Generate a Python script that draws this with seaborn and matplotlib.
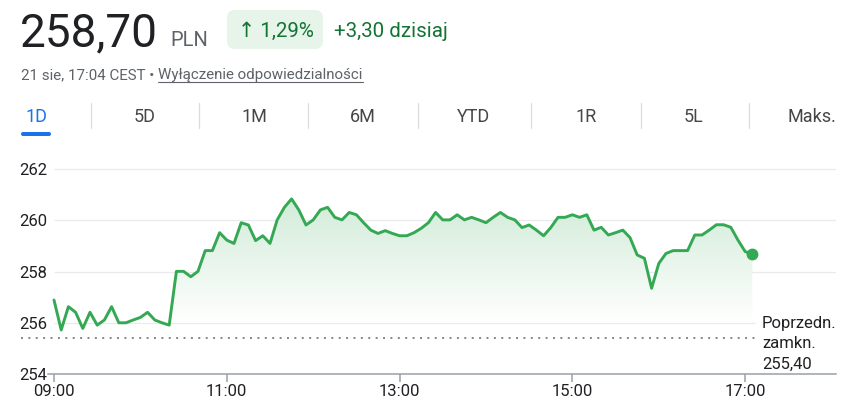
import numpy as np
import pandas as pd
import matplotlib
matplotlib.use("Agg")
import matplotlib.pyplot as plt
import seaborn as sns
from matplotlib.patches import FancyBboxPatch
from matplotlib.colors import to_rgb

# ---------------- data ----------------
price = [
    256.89, 255.72, 256.63, 256.41, 255.78, 256.41, 255.91, 256.11, 256.63, 256.00,
    256.00, 256.11, 256.21, 256.41, 256.11, 256.00, 255.91, 258.01, 258.01, 257.80,
    258.01, 258.82, 258.82, 259.52, 259.23, 259.10, 259.91, 259.82, 259.21, 259.40,
    259.10, 260.02, 260.51, 260.84, 260.41, 259.82, 260.02, 260.41, 260.51, 260.12,
    260.02, 260.31, 260.22, 259.91, 259.62, 259.49, 259.60, 259.49, 259.40, 259.40,
    259.52, 259.69, 259.91, 260.31, 260.02, 260.02, 260.22, 260.02, 260.12, 260.02,
    259.91, 260.12, 260.31, 260.12, 260.02, 259.72, 259.82, 259.62, 259.40, 259.72,
    260.12, 260.12, 260.22, 260.12, 260.22, 259.62, 259.73, 259.43, 259.52, 259.62,
    259.33, 258.65, 258.52, 257.35, 258.32, 258.71, 258.82, 258.82, 258.82, 259.43,
    259.43, 259.62, 259.83, 259.83, 259.73, 259.23, 258.78, 258.70,
]
step_minutes = 5                      # sampling interval from 09:00
minutes = np.arange(len(price)) * step_minutes
prev_close = 255.40
prev_close_label = ["Poprzedn.", "zamkn.", "255,40"]
last_price_label = "258,70"
currency = "PLN"
change_pct = "\u2191 1,29%"
change_abs = "+3,30 dzisiaj"
timestamp = "21 sie, 17:04 CEST \u2022 "
disclaimer = "Wyłączenie odpowiedzialności"
y_ticks = [254, 256, 258, 260, 262]
x_tick_minutes = [0, 120, 240, 360, 480]
x_tick_labels = ["09:00", "11:00", "13:00", "15:00", "17:00"]
tabs = ["1D", "5D", "1M", "6M", "YTD", "1R", "5L", "Maks."]

# ---------------- style ----------------
GREEN = "#34a853"
DARK_GREEN = "#137333"
TEXT = "#202124"
GREY = "#5f6368"
W, H = 855, 413

sns.set_theme(style="white")
plt.rcParams["font.family"] = ["Roboto", "DejaVu Sans"]

fig = plt.figure(figsize=(W / 100, H / 100), dpi=100)
fig.patch.set_facecolor("white")

# pixel geometry of the plot area
X0 = 54.0          # pixel x of 09:00
PXM = 1.44         # pixels per minute
Y254 = 374.0       # pixel y of 254
PXV = 25.6         # pixels per PLN
ax_l, ax_r, ax_t = 48.0, 836.0, 158.0
ax = fig.add_axes([ax_l / W, (H - Y254) / H, (ax_r - ax_l) / W, (Y254 - ax_t) / H])
xmin = (ax_l - X0) / PXM
xmax = (ax_r - X0) / PXM
ymin = 254.0
ymax = 254.0 + (Y254 - ax_t) / PXV

df = pd.DataFrame({"minute": minutes, "price": price})

# gridlines
ax.hlines([258, 260, 262], 0, xmax, color="#e8eaed", lw=0.9, zorder=0)
ax.hlines([256], 0, 487, color="#e8eaed", lw=0.9, zorder=0)

# gradient fill under the line
poly = ax.fill_between(df["minute"], df["price"], 256, facecolor="none", edgecolor="none")
vals = np.linspace(255.5, 262, 300)
alpha = np.clip((vals - 256.0) / (261.0 - 256.0), 0, 1) * 0.23
g = np.array(to_rgb(GREEN))
img = 1 - alpha[:, None] * (1 - g[None, :])
img = img[:, None, :]
im = ax.imshow(img, origin="lower", aspect="auto",
               extent=[0, minutes[-1], 255.5, 262], zorder=1, interpolation="bilinear")
im.set_clip_path(poly.get_paths()[0], transform=ax.transData)

# previous close dotted line
ax.plot([(21 - X0) / PXM, 487], [prev_close, prev_close], color="#80868b",
        lw=1.4, linestyle=(0, (1, 2.8)), clip_on=False, zorder=2)

# price line
sns.lineplot(data=df, x="minute", y="price", color=GREEN, lw=2.1, ax=ax, zorder=3)
ax.lines[-1].set_solid_joinstyle("round")
ax.plot(df["minute"].iloc[-1], df["price"].iloc[-1], "o", ms=7.5, color=GREEN, zorder=4)

ax.set_xlim(xmin, xmax)
ax.set_ylim(ymin, ymax)
for s in ["top", "right", "left"]:
    ax.spines[s].set_visible(False)
ax.spines["bottom"].set_color("#9aa0a6")
ax.spines["bottom"].set_linewidth(1.1)
ax.set_xticks(x_tick_minutes, x_tick_labels)
ax.set_yticks(y_ticks, [str(v) for v in y_ticks])
ax.tick_params(axis="x", bottom=True, length=5.5, width=1.1, color="#9aa0a6",
               pad=2, labelsize=12, labelcolor=TEXT, direction="out")
ax.tick_params(axis="y", left=False, length=0, pad=0.5, labelsize=12, labelcolor=TEXT)
ax.set_xlabel("")
ax.set_ylabel("")
ax.patch.set_alpha(0)

# ---------------- overlay in pixel coordinates ----------------
ov = fig.add_axes([0, 0, 1, 1], zorder=5)
ov.set_xlim(0, W)
ov.set_ylim(H, 0)
ov.axis("off")

ov.text(20, 46, last_price_label, fontsize=33, color=TEXT, va="baseline", ha="left")
ov.text(170, 46, currency, fontsize=14.5, color=GREY, va="baseline", ha="left")
badge = FancyBboxPatch((227, 10), 96, 39, boxstyle="round,pad=0,rounding_size=8",
                       facecolor="#e6f4ea", edgecolor="none")
ov.add_patch(badge)
ov.text(276, 37, change_pct, fontsize=14.8, color=DARK_GREEN, va="baseline", ha="center")
ov.text(334, 37, change_abs, fontsize=14.8, color=DARK_GREEN, va="baseline", ha="left")

t1 = ov.text(21, 79, timestamp, fontsize=10.9, color=GREY, va="baseline", ha="left")
fig.canvas.draw()
r = fig.canvas.get_renderer()
bb = t1.get_window_extent(r)
x_link = bb.x1
t2 = ov.text(x_link, 79, disclaimer, fontsize=10.9, color=GREY, va="baseline", ha="left")
fig.canvas.draw()
bb2 = t2.get_window_extent(r)
ov.plot([bb2.x0, bb2.x1], [82, 82], color=GREY, lw=0.8)

tab_x = [36, 145, 254, 363, 474, 586, 694, 812]
sep_x = [90.7, 199.3, 308.3, 418, 530.7, 640.7, 749.3]
for lab, x in zip(tabs, tab_x):
    ov.text(x, 117, lab, fontsize=13, color="#1a73e8" if lab == "1D" else "#444746",
            ha="center", va="center")
for x in sep_x:
    ov.plot([x, x], [103, 128], color="#dadce0", lw=0.9)
ov.add_patch(FancyBboxPatch((21, 132), 30, 4, boxstyle="round,pad=0,rounding_size=2",
                            facecolor="#1a73e8", edgecolor="none"))

for lab, yb in zip(prev_close_label, [328, 348.5, 369]):
    ov.text(762, yb, lab, fontsize=12, color=TEXT, va="baseline", ha="left")

fig.savefig("out.png", dpi=100, facecolor="white")
